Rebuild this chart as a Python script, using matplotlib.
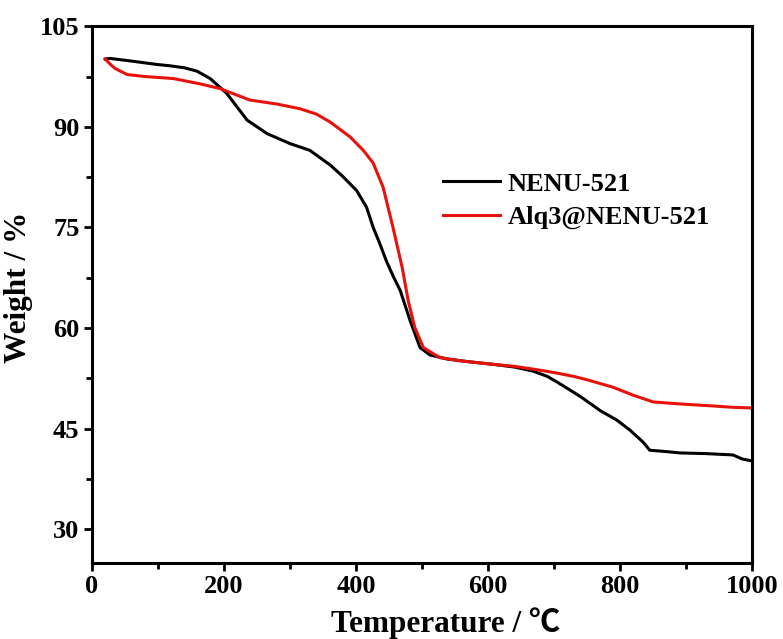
#!/usr/bin/env python3
"""TGA curves for NENU-521 and Alq3@NENU-521."""

import matplotlib

matplotlib.use("Agg")
import matplotlib.pyplot as plt
from matplotlib.ticker import MultipleLocator

# NENU-521 (black)
nenu_temp = [20, 27, 60, 98, 118, 140, 159, 179, 204, 235, 265, 300, 330, 361,
             380, 401, 416, 426, 436, 446, 456, 467, 482, 497, 512, 538, 570,
             608, 640, 668, 690, 709, 740, 770, 795, 815, 835, 845, 870, 891,
             930, 971, 985, 1000]
nenu_weight = [100.1, 100.2, 99.8, 99.3, 99.1, 98.8, 98.3, 97.2, 95.0, 91.0,
               89.0, 87.5, 86.5, 84.3, 82.6, 80.5, 78.0, 75.0, 72.6, 70.0, 67.8,
               65.6, 61.1, 57.1, 56.0, 55.4, 55.0, 54.6, 54.2, 53.6, 52.8, 51.7,
               49.8, 47.7, 46.3, 44.8, 43.0, 41.8, 41.6, 41.4, 41.3, 41.1, 40.5,
               40.2]

# Alq3@NENU-521 (red)
alq_temp = [20, 28, 35, 53, 80, 123, 164, 194, 239, 280, 315, 340, 361, 391,
            411, 426, 441, 456, 470, 479, 489, 502, 527, 560, 608, 640, 668,
            699, 730, 750, 789, 820, 850, 891, 941, 970, 1000]
alq_weight = [100.1, 99.3, 98.7, 97.8, 97.5, 97.2, 96.4, 95.7, 94.0, 93.4, 92.7,
              91.9, 90.7, 88.5, 86.5, 84.6, 81.0, 75.0, 69.0, 64.1, 60.1, 57.1,
              55.6, 55.1, 54.6, 54.3, 53.9, 53.4, 52.8, 52.3, 51.2, 50.0, 49.0,
              48.7, 48.4, 48.2, 48.1]

plt.rcParams["font.family"] = ["Liberation Serif", "Noto Sans CJK JP"]
plt.rcParams["font.weight"] = "bold"

fig = plt.figure(figsize=(7.83, 6.39), dpi=100)
ax = fig.add_axes([0.1175, 0.119, 0.843, 0.840])

ax.plot(nenu_temp, nenu_weight, color="black", linewidth=2.2, label="NENU-521")
ax.plot(alq_temp, alq_weight, color="#e8120c", linewidth=2.2, label="Alq3@NENU-521")

ax.set_xlim(0, 1000)
ax.set_ylim(25, 105)
ax.xaxis.set_major_locator(MultipleLocator(200))
ax.xaxis.set_minor_locator(MultipleLocator(100))
ax.yaxis.set_minor_locator(MultipleLocator(7.5))
ax.set_yticks([30, 45, 60, 75, 90, 105])

for side in ax.spines.values():
    side.set_linewidth(2.2)
ax.tick_params(which="both", direction="out", width=2.0, labelsize=19, pad=3)
ax.tick_params(which="major", length=6)
ax.tick_params(which="minor", length=4)
for lbl in ax.get_xticklabels() + ax.get_yticklabels():
    lbl.set_fontweight("bold")

ax.set_xlabel("Temperature / ℃", fontsize=22.5, fontweight="bold")
ax.set_ylabel("Weight / %", fontsize=22.5, fontweight="bold")
ax.xaxis.set_label_coords(0.535, -0.082)
ax.yaxis.set_label_coords(-0.089, 0.514)

ax.legend(loc="upper left", bbox_to_anchor=(0.532, 0.728), frameon=False,
          prop={"size": 19, "weight": "bold"}, handlelength=2.15,
          handletextpad=0.3, labelspacing=0.38, borderaxespad=0, borderpad=0)

fig.savefig("out.png", dpi=100)
